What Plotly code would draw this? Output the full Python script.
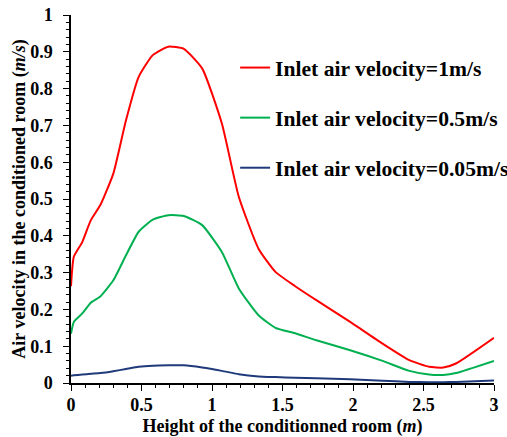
import plotly.graph_objects as go

height_m = [0, 0.02, 0.08, 0.14, 0.21, 0.30, 0.39, 0.48, 0.58, 0.69, 0.80, 0.93,
            1.07, 1.19, 1.33, 1.45, 1.59, 1.74, 1.98, 2.21, 2.40, 2.54, 2.64, 2.73, 3.0]
v_1 = [0.263, 0.343, 0.383, 0.442, 0.485, 0.569, 0.714, 0.832, 0.891, 0.914, 0.908, 0.855,
       0.705, 0.506, 0.365, 0.302, 0.263, 0.225, 0.166, 0.107, 0.062, 0.044, 0.042, 0.053, 0.123]
v_05 = [0.134, 0.166, 0.189, 0.218, 0.236, 0.279, 0.347, 0.411, 0.444, 0.456, 0.454, 0.429,
        0.356, 0.257, 0.184, 0.150, 0.135, 0.116, 0.089, 0.060, 0.033, 0.023, 0.022, 0.027, 0.060]
v_005 = [0.020, 0.021, 0.023, 0.025, 0.027, 0.032, 0.038, 0.044, 0.047, 0.048, 0.048, 0.042,
         0.033, 0.024, 0.018, 0.016, 0.014, 0.013, 0.010, 0.006, 0.003, 0.002, 0.002, 0.003, 0.007]

series_names = ["<b>Inlet air velocity=1m/s</b>", "<b>Inlet air velocity=0.5m/s</b>",
                "<b>Inlet air velocity=0.05m/s</b>"]
colors = ["#FF0000", "#00B050", "#1F3A7A"]

x_ticks = [0, 0.5, 1, 1.5, 2, 2.5, 3]
x_ticklabels = ["<b>0</b>", "<b>0.5</b>", "<b>1</b>", "<b>1.5</b>", "<b>2</b>", "<b>2.5</b>", "<b>3</b>"]
y_ticks = [0, 0.1, 0.2, 0.3, 0.4, 0.5, 0.6, 0.7, 0.8, 0.9, 1]
y_ticklabels = ["<b>0</b>", "<b>0.1</b>", "<b>0.2</b>", "<b>0.3</b>", "<b>0.4</b>", "<b>0.5</b>",
                "<b>0.6</b>", "<b>0.7</b>", "<b>0.8</b>", "<b>0.9</b>", "<b>1</b>"]

FONT = "Liberation Serif"

fig = go.Figure()
for i, (vals, name, col) in enumerate(zip([v_1, v_05, v_005], series_names, colors)):
    fig.add_trace(go.Scatter(
        x=height_m, y=vals, mode="lines", name=name,
        line=dict(color=col, width=2, shape="spline", smoothing=0.5),
        legendgroup=f"g{i}",
    ))

axis_common = dict(
    showline=True, linecolor="black", linewidth=1.5,
    ticks="outside", ticklen=6, tickwidth=1.3, tickcolor="black",
    showgrid=False, zeroline=False, automargin=False,
    tickfont=dict(family=FONT, size=18, color="black"),
)

fig.update_xaxes(
    range=[0, 3], tickvals=x_ticks, ticktext=x_ticklabels,
    minor=dict(dtick=0.1, ticks="outside", ticklen=3, tickcolor="black", tickwidth=1),
    ticklabelstandoff=-1,
    title=dict(text="<b>Height of the conditionned room (<i>m</i>)</b>",
               font=dict(family=FONT, size=18, color="black"), standoff=14),
    **axis_common,
)
fig.update_yaxes(
    range=[0, 1], tickvals=y_ticks, ticktext=y_ticklabels,
    minor=dict(dtick=0.02, ticks="outside", ticklen=3, tickcolor="black", tickwidth=1),
    ticklabelstandoff=7,
    title=dict(text="<b>Air velocity in the conditioned room (<i>m/s</i>)</b>",
               font=dict(family=FONT, size=18, color="black"), standoff=0),
    **axis_common,
)

fig.update_layout(
    width=507, height=437,
    margin=dict(l=71, r=13, t=15, b=54, autoexpand=False),
    plot_bgcolor="white", paper_bgcolor="white",
    showlegend=True,
    legend=dict(
        x=0.388, y=0.913, xanchor="left", yanchor="top",
        font=dict(family=FONT, size=21.6, color="black"),
        tracegroupgap=19, bgcolor="rgba(0,0,0,0)",
        itemwidth=30,
    ),
)

fig.write_html("out.html", config={"displayModeBar": False},
               post_script="document.body.style.margin='0px';")
